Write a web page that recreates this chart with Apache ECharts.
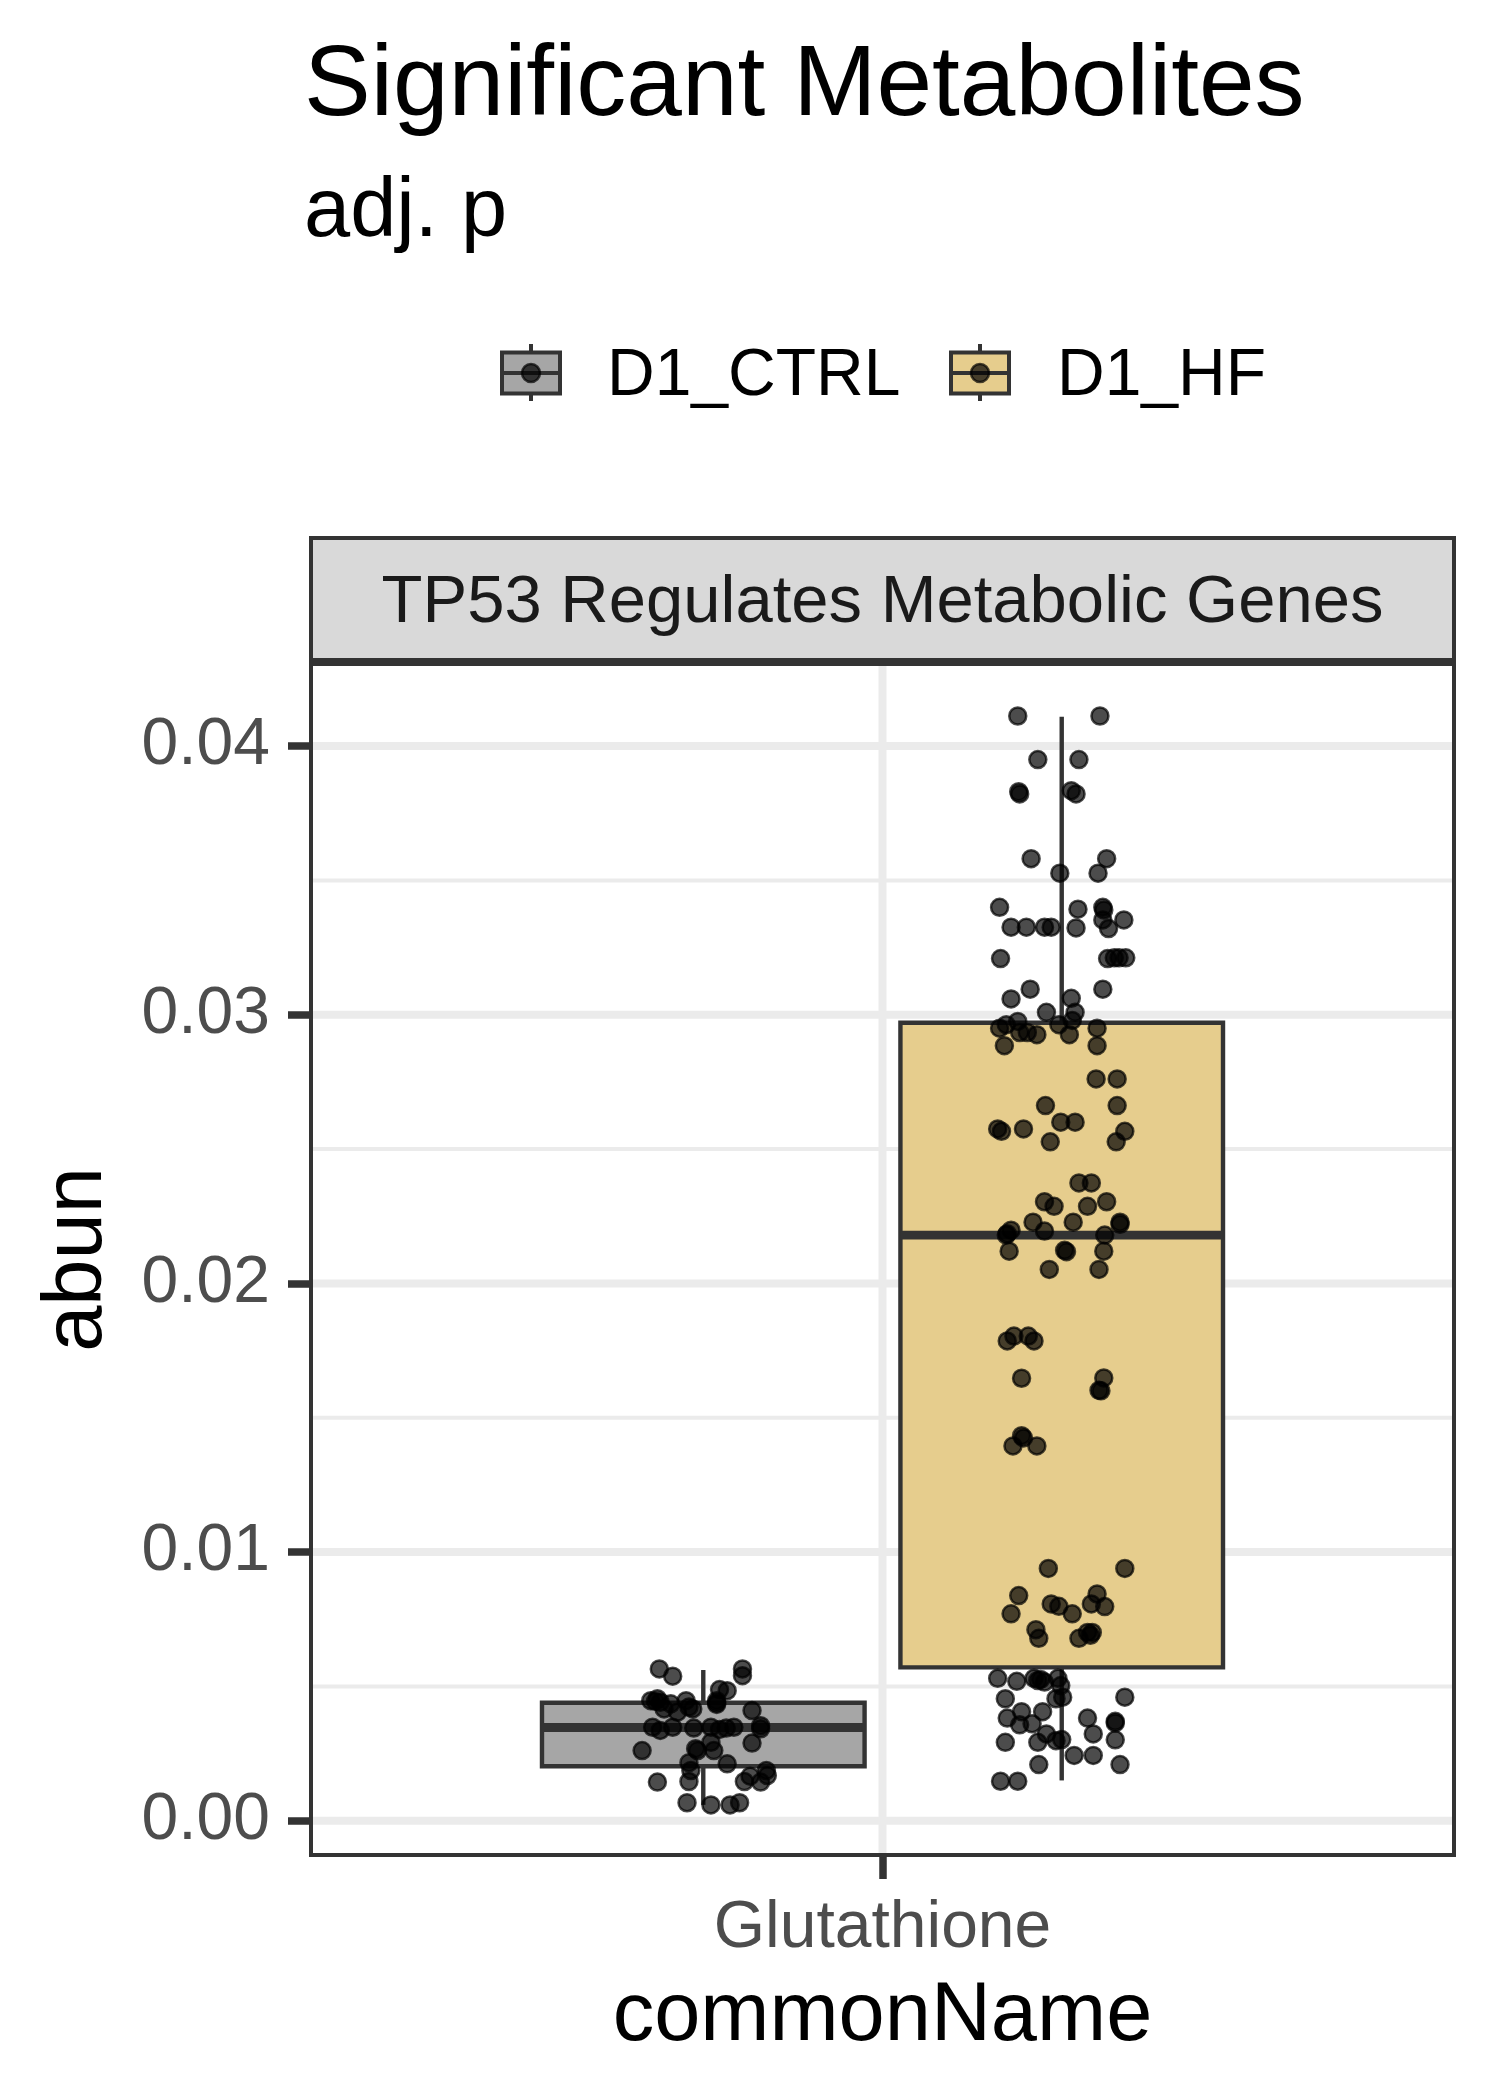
<!DOCTYPE html>
<html>
<head>
<meta charset="utf-8">
<title>Significant Metabolites</title>
<script src="https://cdn.jsdelivr.net/npm/echarts@6.0.0/dist/echarts.min.js"></script>
<style>
  html, body { margin: 0; padding: 0; background: #ffffff; }
  #chart { width: 1500px; height: 2100px; }
</style>
</head>
<body>
<div id="chart"></div>
<script>
// ---- data ----
const categories = ['Glutathione'];
const groups = ['D1_CTRL', 'D1_HF'];
const yTicks = [0, 0.01, 0.02, 0.03, 0.04];
const yMinor = [0.005, 0.015, 0.025, 0.035];

// [lower whisker, Q1, median, Q3, upper whisker]
const ctrlBox = [0.00059, 0.00203, 0.00347, 0.00439, 0.00561];
const hfBox = [0.00150, 0.00571, 0.02180, 0.02970, 0.04109];

// jitter offset (x units) and abundance of each point
const ctrlJitter = [
  -0.046, -0.032, 0.041, 0.041, 0.017, 0.025,
  -0.055, -0.048, -0.045, -0.050, -0.041, -0.034, -0.027, -0.018, -0.015, -0.011, 0.014, 0.014, 0.014, 0.051,
  -0.053, -0.045, -0.032, -0.010, 0.008, 0.017, 0.024, 0.032, 0.060, 0.060,
  -0.064, -0.008, -0.006, 0.008, 0.011, 0.051,
  -0.015, -0.013, 0.025,
  -0.048, -0.015, 0.043, 0.049, 0.060, 0.066, 0.067,
  -0.017, 0.008, 0.028, 0.038
];
const ctrlAbun = [
  0.00565, 0.00538, 0.00565, 0.00540, 0.00488, 0.00484,
  0.00447, 0.00454, 0.00441, 0.00444, 0.00416, 0.00435, 0.00404, 0.00447, 0.00423, 0.00416, 0.00439, 0.00447, 0.00433, 0.00410,
  0.00348, 0.00336, 0.00348, 0.00345, 0.00348, 0.00340, 0.00345, 0.00348, 0.00354, 0.00342,
  0.00261, 0.00268, 0.00261, 0.00292, 0.00261, 0.00289,
  0.00216, 0.00187, 0.00212,
  0.00144, 0.00146, 0.00146, 0.00166, 0.00144, 0.00187, 0.00168,
  0.00067, 0.00059, 0.00059, 0.00067
];

const hfJitter = [
  -0.046, 0.040, -0.025, 0.018, -0.045, -0.044, 0.010, 0.015,
  -0.032, 0.047, -0.002, 0.038, -0.065, 0.017, 0.043, 0.044,
  -0.053, -0.037, -0.018, -0.011, 0.015, 0.043, 0.049, 0.065,
  -0.064, 0.048, 0.055, 0.060, 0.067, -0.033, -0.053, 0.043, 0.010,
  -0.016, 0.014, -0.065, -0.058, -0.046, -0.044, -0.036, -0.026, -0.003, 0.008, 0.011, 0.037,
  -0.060, 0.037, 0.036, 0.058,
  -0.017, 0.058, -0.067, -0.063, -0.040, -0.001, 0.014, -0.012, 0.057, 0.066,
  0.018, 0.031, -0.018, -0.008, 0.027, 0.047,
  -0.030, -0.018, 0.012, 0.061, 0.061, -0.053, -0.058, -0.057, 0.045,
  -0.055, 0.003, 0.005, 0.044, -0.013, 0.039,
  -0.050, -0.035, -0.057, -0.029, -0.042, 0.044, 0.039, 0.041,
  -0.042, -0.040, -0.051, -0.026,
  -0.014, 0.066, -0.045, 0.037, -0.053, -0.011, -0.003, 0.011, 0.031, 0.045,
  -0.027, -0.024, 0.018, 0.027, 0.032, 0.030,
  -0.067, -0.047, -0.029, -0.025, -0.022, -0.018, -0.004, -0.001,
  -0.059, -0.006, 0.001, 0.066,
  -0.057, -0.042, -0.044, -0.031, -0.020, 0.027, 0.056, 0.056,
  -0.059, -0.025, -0.016, -0.006, 0.000, 0.033, 0.056,
  -0.024, 0.013, 0.033, 0.061, -0.064, -0.046
];
const hfAbun = [
  0.04112, 0.04112, 0.03950, 0.03950, 0.03830, 0.03822, 0.03834, 0.03822,
  0.03581, 0.03581, 0.03527, 0.03527, 0.03400, 0.03393, 0.03400, 0.03390,
  0.03326, 0.03326, 0.03326, 0.03326, 0.03323, 0.03353, 0.03321, 0.03353,
  0.03209, 0.03209, 0.03212, 0.03212, 0.03212, 0.03095, 0.03059, 0.03095, 0.03061,
  0.03009, 0.03009, 0.02950, 0.02963, 0.02975, 0.02934, 0.02934, 0.02926, 0.02963, 0.02926, 0.02979, 0.02950,
  0.02885, 0.02885, 0.02761, 0.02761,
  0.02662, 0.02662, 0.02575, 0.02566, 0.02575, 0.02600, 0.02600, 0.02527, 0.02527, 0.02566,
  0.02374, 0.02374, 0.02304, 0.02287, 0.02287, 0.02304,
  0.02228, 0.02195, 0.02228, 0.02228, 0.02220, 0.02198, 0.02180, 0.02185, 0.02180,
  0.02120, 0.02123, 0.02118, 0.02120, 0.02052, 0.02052,
  0.01804, 0.01804, 0.01786, 0.01786, 0.01647, 0.01648, 0.01602, 0.01600,
  0.01433, 0.01425, 0.01395, 0.01395,
  0.00939, 0.00939, 0.00838, 0.00844, 0.00770, 0.00807, 0.00798, 0.00770, 0.00807, 0.00797,
  0.00711, 0.00679, 0.00679, 0.00701, 0.00701, 0.00690,
  0.00530, 0.00519, 0.00530, 0.00522, 0.00526, 0.00516, 0.00530, 0.00503,
  0.00454, 0.00454, 0.00460, 0.00460,
  0.00382, 0.00406, 0.00357, 0.00361, 0.00406, 0.00382, 0.00364, 0.00370,
  0.00292, 0.00292, 0.00323, 0.00298, 0.00302, 0.00323, 0.00301,
  0.00209, 0.00243, 0.00243, 0.00209, 0.00147, 0.00147
];

// ---- styling / layout ----
const FONT = '"Liberation Sans", Arial, Helvetica, sans-serif';
const groupFill = ['#A6A6A6', '#E6CD8D'];
const dodge = [-0.1875, 0.1875];
const halfBox = 0.16875;
const dark = '#333333';
const pointColor = 'rgba(0,0,0,0.7)';

const panel = { left: 309, top: 662, width: 1147, height: 1195 };
const strip = { top: 536, height: 126 };

const boxes = [ctrlBox, hfBox];
const boxData = boxes.map((b, i) => [1 + dodge[i]].concat(b, [i]));

const gridData = [];
yTicks.forEach(v => gridData.push([1, v, 1]));
yMinor.forEach(v => gridData.push([1, v, 0]));
gridData.push([1, 0.02, 2]);

function pointsOf(jit, abun, i) {
  return jit.map((d, k) => [1 + dodge[i] + d, abun[k]]);
}

function renderGrid(params, api) {
  const cs = params.coordSys;
  const kind = api.value(2);
  if (kind === 2) {
    const x = api.coord([api.value(0), api.value(1)])[0];
    return { type: 'line', shape: { x1: x, y1: cs.y, x2: x, y2: cs.y + cs.height },
      style: { stroke: '#EBEBEB', lineWidth: 8 } };
  }
  const y = api.coord([api.value(0), api.value(1)])[1];
  return { type: 'line', shape: { x1: cs.x, y1: y, x2: cs.x + cs.width, y2: y },
    style: { stroke: '#EBEBEB', lineWidth: kind === 1 ? 8 : 4 } };
}

function renderBox(params, api) {
  const x = api.value(0);
  const lo = api.value(1), q1 = api.value(2), med = api.value(3), q3 = api.value(4), hi = api.value(5);
  const i = api.value(6);
  const tl = api.coord([x - halfBox, q3]);
  const br = api.coord([x + halfBox, q1]);
  const cx = api.coord([x, med])[0];
  const yMed = api.coord([x, med])[1];
  const yLo = api.coord([x, lo])[1];
  const yHi = api.coord([x, hi])[1];
  const ls = { stroke: dark, lineWidth: 4.4 };
  return {
    type: 'group',
    children: [
      { type: 'line', shape: { x1: cx, y1: yHi, x2: cx, y2: tl[1] }, style: ls },
      { type: 'line', shape: { x1: cx, y1: br[1], x2: cx, y2: yLo }, style: ls },
      { type: 'rect', shape: { x: tl[0], y: tl[1], width: br[0] - tl[0], height: br[1] - tl[1] },
        style: { fill: groupFill[i], stroke: dark, lineWidth: 4.4 } },
      { type: 'line', shape: { x1: tl[0], y1: yMed, x2: br[0], y2: yMed },
        style: { stroke: dark, lineWidth: 8.8 } }
    ]
  };
}

// legend keys drawn like ggplot boxplot glyphs
const legendKeyX = [531, 980];
const legendTextX = [607, 1057];
const legendY = 377;
const graphics = [];
groups.forEach((g, i) => {
  const cx = legendKeyX[i];
  graphics.push(
    { type: 'line', z: 10, shape: { x1: cx, y1: 344, x2: cx, y2: 401 }, style: { stroke: dark, lineWidth: 4 } },
    { type: 'rect', z: 11, shape: { x: cx - 29, y: 352.5, width: 58, height: 41 },
      style: { fill: groupFill[i], stroke: dark, lineWidth: 4 } },
    { type: 'line', z: 12, shape: { x1: cx - 29, y1: 373, x2: cx + 29, y2: 373 }, style: { stroke: dark, lineWidth: 4 } },
    { type: 'circle', z: 13, shape: { cx: cx, cy: 373, r: 9 },
      style: { fill: pointColor, stroke: pointColor, lineWidth: 2.5 } },
    { type: 'text', z: 13, x: legendTextX[i], y: legendY,
      style: { text: g, font: '66px ' + FONT, fill: '#000000',
        textAlign: 'left', align: 'left', textVerticalAlign: 'middle', verticalAlign: 'middle' } }
  );
});

// facet strip
graphics.push(
  { type: 'rect', z: 5, shape: { x: panel.left + 2, y: strip.top + 2, width: panel.width - 4, height: strip.height - 4 },
    style: { fill: '#D9D9D9', stroke: dark, lineWidth: 4 } },
  { type: 'text', z: 6, x: panel.left + panel.width / 2, y: 604,
    style: { text: 'TP53 Regulates Metabolic Genes', font: '67px ' + FONT, fill: '#1A1A1A',
      textAlign: 'center', align: 'center', textVerticalAlign: 'middle', verticalAlign: 'middle' } },
  // panel border (drawn on top of the data, inside the panel)
  { type: 'rect', z: 100, silent: true,
    shape: { x: panel.left + 2, y: panel.top + 2, width: panel.width - 4, height: panel.height - 4 },
    style: { fill: 'none', stroke: dark, lineWidth: 4 } },
  // axis titles
  { type: 'text', z: 6, x: 78, y: panel.top + panel.height / 2, rotation: Math.PI / 2,
    style: { text: 'abun', font: '83px ' + FONT, fill: '#000000',
      textAlign: 'center', align: 'center', textVerticalAlign: 'middle', verticalAlign: 'middle' } },
  { type: 'text', z: 6, x: panel.left + panel.width / 2, y: 2017,
    style: { text: 'commonName', font: '83px ' + FONT, fill: '#000000',
      textAlign: 'center', align: 'center', textVerticalAlign: 'middle', verticalAlign: 'middle' } }
);

const chart = echarts.init(document.getElementById('chart'));
chart.setOption({
  animation: false,
  backgroundColor: '#ffffff',
  title: {
    text: 'Significant Metabolites',
    subtext: 'adj. p',
    left: 304,
    top: 37,
    padding: 0,
    itemGap: 35,
    textStyle: { fontFamily: FONT, fontSize: 100, fontWeight: 'normal', color: '#000000', lineHeight: 100 },
    subtextStyle: { fontFamily: FONT, fontSize: 83, color: '#000000', lineHeight: 83 }
  },
  grid: { left: panel.left, top: panel.top, width: panel.width, height: panel.height, containLabel: false },
  xAxis: {
    type: 'value',
    min: 0.4,
    max: 1.6,
    axisLine: { show: false, onZero: false },
    splitLine: { show: false },
    axisTick: { customValues: [1], length: 22, lineStyle: { color: dark, width: 7.5 } },
    axisLabel: {
      customValues: [1],
      formatter: v => categories[Math.round(v) - 1] || '',
      fontFamily: FONT, fontSize: 66, lineHeight: 66, color: '#4D4D4D', margin: 39
    }
  },
  yAxis: {
    type: 'value',
    min: -0.00135,
    max: 0.04313,
    axisLine: { show: false, onZero: false },
    splitLine: { show: false },
    axisTick: { customValues: yTicks, length: 21, lineStyle: { color: dark, width: 7.5 } },
    axisLabel: {
      customValues: yTicks,
      formatter: v => v.toFixed(2),
      fontFamily: FONT, fontSize: 66, color: '#4D4D4D', margin: 39
    }
  },
  graphic: graphics,
  series: [
    { type: 'custom', name: 'grid', z: 1, silent: true, renderItem: renderGrid, data: gridData },
    { type: 'custom', name: 'box', z: 2, silent: true, renderItem: renderBox, data: boxData },
    {
      type: 'scatter', name: groups[0], z: 3, silent: true, symbolSize: 17,
      itemStyle: { color: pointColor, borderColor: pointColor, borderWidth: 2.5, opacity: 1 },
      data: pointsOf(ctrlJitter, ctrlAbun, 0)
    },
    {
      type: 'scatter', name: groups[1], z: 3, silent: true, symbolSize: 17,
      itemStyle: { color: pointColor, borderColor: pointColor, borderWidth: 2.5, opacity: 1 },
      data: pointsOf(hfJitter, hfAbun, 1)
    }
  ]
});
</script>
</body>
</html>
